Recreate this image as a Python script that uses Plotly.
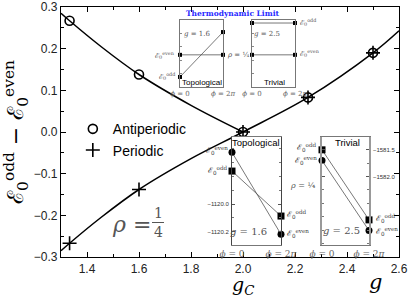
import math
import plotly.graph_objects as go

# ---------------- data ----------------
g_marks = [1.333, 1.6, 2.0, 2.25, 2.5]
anti_marks = [0.267, 0.138, 0.0, 0.083, 0.19]
peri_marks = [-0.267, -0.138, 0.0, 0.083, 0.19]

g_anti_curve = [1.3, 1.333, 1.45, 1.6, 1.8, 2.0]
anti_curve = [0.285, 0.267, 0.207, 0.138, 0.064, 0.0]
g_peri_curve = [1.3, 1.333, 1.45, 1.6, 1.8, 2.0, 2.25, 2.5, 2.6]
peri_curve = [-0.285, -0.267, -0.207, -0.138, -0.064, 0.0, 0.083, 0.19, 0.243]

phi = [0, 2 * math.pi]
# thermodynamic limit insets (arbitrary units)
tl_topo_even = [0.48, 0.48]
tl_topo_odd = [0.15, 0.82]
tl_triv_odd = [0.955, 0.955]
tl_triv_even = [0.48, 0.48]
# finite-size insets
fs_topo_even = [-1119.627, -1120.219]
fs_topo_odd = [-1119.762, -1120.087]
fs_triv_odd = [-1581.50, -1582.81]
fs_triv_even = [-1581.70, -1583.01]

x_ticks = [1.4, 1.6, 1.8, 2.0, 2.2, 2.4, 2.6]
y_ticks = [-0.3, -0.2, -0.1, 0.0, 0.1, 0.2, 0.3]

# ---------------- geometry helpers (pixels -> paper) ----------------
L, R, T, B = 61, 399, 7, 257
W, H = R - L, B - T
def px(x):
    return (x - L) / W
def py(y):
    return (B - y) / H

fig = go.Figure()

# main curves
fig.add_trace(go.Scatter(x=g_anti_curve, y=anti_curve, mode="lines", line=dict(color="black", width=1.5, shape="spline"),
                         showlegend=False, hoverinfo="skip"))
fig.add_trace(go.Scatter(x=g_peri_curve, y=peri_curve, mode="lines", line=dict(color="black", width=1.5, shape="spline"),
                         showlegend=False, hoverinfo="skip"))
fig.add_trace(go.Scatter(x=g_marks, y=anti_marks, mode="markers", name="Antiperiodic",
                         marker=dict(symbol="circle-open", size=9, color="black", line=dict(width=1.6)),
                         cliponaxis=False))
fig.add_trace(go.Scatter(x=g_marks, y=peri_marks, mode="markers", name="Periodic",
                         marker=dict(symbol="cross-thin-open", size=10, color="black", line=dict(width=1.6)),
                         cliponaxis=False))

INS_LINE = dict(color="#555", width=0.8)
# inset 2: thermodynamic topological
fig.add_trace(go.Scatter(x=phi, y=tl_topo_even, xaxis="x2", yaxis="y2", mode="lines+markers", line=INS_LINE,
                         marker=dict(symbol="square", size=4, color="black"), showlegend=False, cliponaxis=False))
fig.add_trace(go.Scatter(x=phi, y=tl_topo_odd, xaxis="x2", yaxis="y2", mode="lines+markers", line=INS_LINE,
                         marker=dict(symbol="square", size=4, color="black"), showlegend=False, cliponaxis=False))
# inset 3: thermodynamic trivial
fig.add_trace(go.Scatter(x=phi, y=tl_triv_odd, xaxis="x3", yaxis="y3", mode="lines+markers", line=INS_LINE,
                         marker=dict(symbol="square", size=4, color="black"), showlegend=False, cliponaxis=False))
fig.add_trace(go.Scatter(x=phi, y=tl_triv_even, xaxis="x3", yaxis="y3", mode="lines+markers", line=INS_LINE,
                         marker=dict(symbol="square", size=4, color="black"), showlegend=False, cliponaxis=False))
# inset 4: finite topological
fig.add_trace(go.Scatter(x=phi, y=fs_topo_even, xaxis="x4", yaxis="y4", mode="lines+markers", line=INS_LINE,
                         marker=dict(symbol="circle", size=7, color="black"), showlegend=False, cliponaxis=False))
fig.add_trace(go.Scatter(x=phi, y=fs_topo_odd, xaxis="x4", yaxis="y4", mode="lines+markers", line=INS_LINE,
                         marker=dict(symbol="square", size=7, color="black"), showlegend=False, cliponaxis=False))
# inset 5: finite trivial
fig.add_trace(go.Scatter(x=phi, y=fs_triv_odd, xaxis="x5", yaxis="y5", mode="lines+markers", line=INS_LINE,
                         marker=dict(symbol="square", size=7, color="black"), showlegend=False, cliponaxis=False))
fig.add_trace(go.Scatter(x=phi, y=fs_triv_even, xaxis="x5", yaxis="y5", mode="lines+markers", line=INS_LINE,
                         marker=dict(symbol="circle", size=7, color="black"), showlegend=False, cliponaxis=False))

PHI_TEXT = ["<i>ϕ</i> = 0", "<i>ϕ</i> = 2<i>π</i>"]
SERIF = "DejaVu Serif"

def inset_x(domain, anchor, fsize):
    return dict(domain=domain, anchor=anchor, range=[0, 2 * math.pi], showline=True, mirror=True,
                linecolor="#777", linewidth=1, tickvals=phi, ticktext=PHI_TEXT, ticks="",
                tickfont=dict(family=SERIF, size=fsize, color="#666"), showgrid=False, zeroline=False,
                ticklabelstandoff=0, automargin=False)

fig.update_layout(
    width=411, height=297,
    margin=dict(l=L, r=411 - R, t=T, b=297 - B, autoexpand=False),
    paper_bgcolor="white", plot_bgcolor="white",
    font=dict(family="Liberation Sans, Arial", color="black"),
    showlegend=True,
    legend=dict(x=0.035, y=0.575, xanchor="left", yanchor="top", bgcolor="rgba(0,0,0,0)",
                font=dict(size=14, family="Liberation Sans, Arial"), tracegroupgap=0, itemwidth=30),
    xaxis=dict(domain=[0, 1], range=[1.3, 2.6], tickvals=x_ticks, tickformat=".1f",
               ticks="inside", ticklen=5, tickcolor="black", tickwidth=1.2,
               minor=dict(ticks="inside", dtick=0.1, ticklen=3, tickcolor="black"),
               showline=True, mirror="allticks", linecolor="black", linewidth=1.3,
               showgrid=False, zeroline=False, tickfont=dict(size=12, color="#222"), automargin=False),
    yaxis=dict(domain=[0, 1], range=[-0.3, 0.3], tickvals=y_ticks, tickformat=".1f",
               ticks="inside", ticklen=5, tickcolor="black", tickwidth=1.2,
               minor=dict(ticks="inside", dtick=0.05, ticklen=3, tickcolor="black"),
               showline=True, mirror="allticks", linecolor="black", linewidth=1.3,
               showgrid=False, zeroline=False, tickfont=dict(size=12, color="#222"), automargin=False,
               title=dict(text="ℰ<sub>0</sub><sup>odd</sup> − ℰ<sub>0</sub><sup>even</sup>",
                          font=dict(family=SERIF, size=22), standoff=4)),
    xaxis2=inset_x([px(180), px(223)], "y2", 7),
    yaxis2=dict(domain=[py(87), py(20)], anchor="x2", range=[0, 1], showline=True, mirror=True,
                linecolor="#777", showticklabels=False, ticks="inside", ticklen=2, dtick=0.2,
                tickcolor="#888", showgrid=False, zeroline=False, automargin=False),
    xaxis3=inset_x([px(252), px(295)], "y3", 7),
    yaxis3=dict(domain=[py(87), py(20)], anchor="x3", range=[0, 1], showline=True, mirror=True,
                linecolor="#777", showticklabels=False, ticks="inside", ticklen=2, dtick=0.2,
                tickcolor="#888", showgrid=False, zeroline=False, automargin=False),
    xaxis4=inset_x([px(232), px(281)], "y4", 9),
    yaxis4=dict(domain=[py(245), py(137)], anchor="x4", range=[-1120.296, -1119.516], showline=True,
                mirror="allticks", linecolor="#444", linewidth=1, tickvals=[-1120.0, -1120.2],
                tickformat=".1f", ticks="inside", ticklen=3, tickcolor="#555",
                minor=dict(ticks="inside", dtick=0.1, ticklen=2, tickcolor="#777"),
                tickfont=dict(size=6, color="#333"), showgrid=False, zeroline=False, ticklabelstandoff=1,
                automargin=False),
    xaxis5=inset_x([px(322), px(369)], "y5", 9),
    yaxis5=dict(domain=[py(245), py(137)], anchor="x5", side="right", range=[-1583.28, -1581.26],
                showline=True, mirror="allticks", linecolor="#999", linewidth=1.5,
                tickvals=[-1581.5, -1582.0], tickformat=".1f", ticks="inside", ticklen=3, tickcolor="#555",
                minor=dict(ticks="inside", dtick=0.25, ticklen=2, tickcolor="#777"),
                tickfont=dict(size=6, color="#333"), showgrid=False, zeroline=False, ticklabelstandoff=1,
                automargin=False),
)

ann = []
def A(x, y, text, size, color="black", family=SERIF, xanchor="center", yanchor="middle"):
    ann.append(dict(x=px(x), y=py(y), xref="paper", yref="paper", text=text, showarrow=False,
                    font=dict(size=size, color=color, family=family), xanchor=xanchor, yanchor=yanchor))

E_EVEN = "ℰ<sub>0</sub><sup>even</sup>"
E_ODD = "ℰ<sub>0</sub><sup>odd</sup>"
GRAY = "#555"
# x-axis labels
A(243, 285, "<i>g</i><sub><i>C</i></sub>", 19, "black")
A(375, 282, "<i>g</i>", 21, "black")
# main rho
A(131, 224, "<i>ρ</i> =", 22, GRAY)
A(158, 213, "1", 14, GRAY)
A(158, 232, "4", 14, GRAY)
# thermodynamic limit
A(232, 13, "<b>Thermodynamic Limit</b>", 7.5, "#2a2aff")
# inset 2 labels
A(177, 55, E_EVEN, 7, GRAY, xanchor="right")
A(177, 76, E_ODD, 7, GRAY, xanchor="right")
A(197, 34, "<i>g</i> = 1.6", 7, GRAY)
A(202, 82, "Topological", 8, "black", family="Liberation Sans, Arial")
A(238, 55, "<i>ρ</i> = ¼", 7, GRAY)
# inset 3 labels
A(298, 22, E_ODD, 7, GRAY, xanchor="left")
A(298, 53, E_EVEN, 7, GRAY, xanchor="left")
A(267, 34, "<i>g</i> = 2.5", 7, GRAY)
A(274, 82, "Trivial", 8, "black", family="Liberation Sans, Arial")
# inset 4 labels
A(230, 150, E_EVEN, 8, "#333", xanchor="right")
A(230, 170, E_ODD, 8, "#333", xanchor="right")
A(285, 214, E_ODD, 8, "#333", xanchor="left")
A(285, 233, E_EVEN, 8, "#333", xanchor="left")
A(249, 231, "<i>g</i> = 1.6", 10, GRAY)
A(256, 142, "Topological", 9.5, "black", family="Liberation Sans, Arial")
A(302, 185, "<i>ρ</i> = ¼", 8, GRAY)
# inset 5 labels
A(319, 147, E_ODD, 8, "#333", xanchor="right")
A(319, 160, E_EVEN, 8, "#333", xanchor="right")
A(374, 218, E_ODD, 8, "#333", xanchor="left")
A(374, 231, E_EVEN, 8, "#333", xanchor="left")
A(341, 230, "<i>g</i> = 2.5", 10, GRAY)
A(347, 142, "Trivial", 9.5, "black", family="Liberation Sans, Arial")

fig.update_layout(annotations=ann)
fig.add_shape(type="line", xref="paper", yref="paper", x0=px(152), x1=px(164), y0=py(222.5), y1=py(222.5),
              line=dict(color=GRAY, width=1))

fig.write_html("out.html", config={"displayModeBar": False},
               post_script="document.body.style.margin='0';document.body.style.overflow='hidden';")
